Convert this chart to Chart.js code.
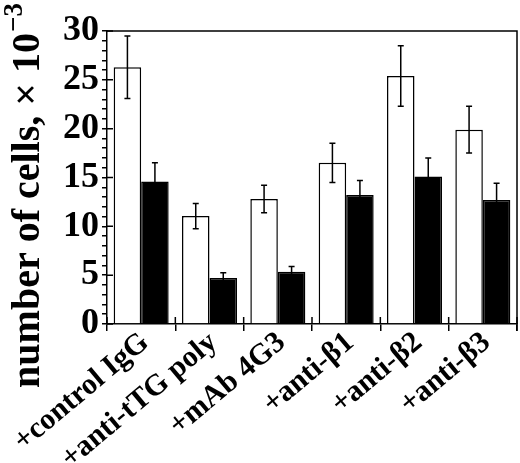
<!DOCTYPE html>
<html>
<head>
<meta charset="utf-8">
<script src="https://cdn.jsdelivr.net/npm/chart.js@4.4.0/dist/chart.umd.min.js"></script>
<style>
  body { margin: 0; background: #fff; }
  #wrap { width: 520px; height: 463px; }
</style>
</head>
<body>
<div id="wrap"><canvas id="mycanvas" width="520" height="463"></canvas></div>
<script>
// treatments along the x axis
var treatments = ['+control IgG', '+anti-tTG poly', '+mAb 4G3', '+anti-\u03B21', '+anti-\u03B22', '+anti-\u03B23'];
// number of cells x 10^-3 (open and filled bars)
var openBars = [26.3, 11.05, 12.8, 16.5, 25.4, 19.9];
var openErr = [3.2, 1.3, 1.4, 2.0, 3.1, 2.4];
var filledBars = [14.6, 4.7, 5.35, 13.2, 15.1, 12.7];
var filledErr = [1.9, 0.55, 0.55, 1.5, 1.9, 1.7];
var yTicks = [0, 5, 10, 15, 20, 25, 30];

var serif = '"Liberation Serif", "Times New Roman", serif';

// error bars, frame, inner ticks and the y title
var extras = {
  id: 'extras',
  afterDatasetsDraw: function(chart) {
    var ctx = chart.ctx;
    var ys = chart.scales.y;
    var errs = [openErr, filledErr];
    ctx.save();
    ctx.strokeStyle = '#000';
    ctx.lineWidth = 1.5;
    chart.data.datasets.forEach(function(ds, d) {
      var meta = chart.getDatasetMeta(d);
      meta.data.forEach(function(bar, i) {
        var v = ds.data[i];
        var hi = ys.getPixelForValue(v + errs[d][i]);
        var lo = ys.getPixelForValue(v - errs[d][i]);
        ctx.beginPath();
        ctx.moveTo(bar.x, hi); ctx.lineTo(bar.x, lo);
        ctx.moveTo(bar.x - 3, hi); ctx.lineTo(bar.x + 3, hi);
        ctx.moveTo(bar.x - 3, lo); ctx.lineTo(bar.x + 3, lo);
        ctx.stroke();
      });
    });
    var a = chart.chartArea;
    // top and right frame
    ctx.beginPath();
    ctx.moveTo(a.left, a.top); ctx.lineTo(a.right, a.top);
    ctx.lineTo(a.right, a.bottom + 7);
    ctx.stroke();
    // inner part of the major y ticks
    ctx.beginPath();
    yTicks.forEach(function(t) {
      var p = ys.getPixelForValue(t);
      ctx.moveTo(a.left, p); ctx.lineTo(a.left + 6, p);
    });
    // inner part of the x ticks
    for (var i = 0; i <= treatments.length; i++) {
      var px = a.left + (a.right - a.left) * i / treatments.length;
      ctx.moveTo(px, a.bottom); ctx.lineTo(px, a.bottom - 7);
    }
    ctx.stroke();
    // y title
    ctx.fillStyle = '#000';
    ctx.translate(39, 196);
    ctx.rotate(-Math.PI / 2);
    var main = 'number of cells, \u00D7 10';
    ctx.font = 'bold 40px ' + serif;
    var w = ctx.measureText(main).width;
    ctx.font = 'bold 27px ' + serif;
    var sup = '\u22123';
    var ws = ctx.measureText(sup).width;
    var start = -(w + ws) / 2;
    ctx.textAlign = 'left';
    ctx.textBaseline = 'alphabetic';
    ctx.font = 'bold 40px ' + serif;
    ctx.fillText(main, start, 0);
    ctx.font = 'bold 27px ' + serif;
    ctx.fillText(sup, start + w + 1, -17);
    ctx.restore();
  }
};

var chartdata = {
  labels: treatments,
  datasets: [
    {
      label: 'open',
      data: openBars,
      backgroundColor: '#fff',
      borderColor: '#000',
      borderWidth: 1.5,
      categoryPercentage: 0.805,
      barPercentage: 1.0
    },
    {
      label: 'filled',
      data: filledBars,
      backgroundColor: '#000',
      borderColor: '#000',
      borderWidth: 1.5,
      categoryPercentage: 0.805,
      barPercentage: 1.0
    }
  ]
};

var ctx = document.getElementById('mycanvas');
var barGraph = new Chart(ctx, {
  type: 'bar',
  data: chartdata,
  plugins: [extras],
  options: {
    responsive: false,
    animation: false,
    layout: { padding: { top: 31, right: 3, left: 0, bottom: 0 } },
    plugins: { legend: { display: false }, tooltip: { enabled: false } },
    scales: {
      x: {
        offset: true,
        grid: { offset: true, drawOnChartArea: false, tickLength: 7, color: '#000', lineWidth: 1.5 },
        border: { color: '#000', width: 1.5 },
        ticks: {
          autoSkip: false,
          minRotation: 40,
          maxRotation: 40,
          padding: -6,
          labelOffset: 4,
          color: '#000',
          font: { family: serif, size: 30, weight: 'bold' }
        },
        afterFit: function(scale) {
          scale.height = 139;
          scale.paddingLeft = 0;
          scale.paddingRight = 0;
        }
      },
      y: {
        min: 0,
        max: 30,
        grid: { drawOnChartArea: false, tickLength: 5, color: '#000', lineWidth: 1.5 },
        border: { color: '#000', width: 1.5 },
        ticks: {
          stepSize: 1,
          autoSkip: false,
          padding: 3,
          color: '#000',
          font: { family: serif, size: 36, weight: 'bold' },
          callback: function(v) { return yTicks.indexOf(v) >= 0 ? v : ''; }
        },
        afterFit: function(scale) { scale.width = 107; }
      }
    }
  }
});
</script>
</body>
</html>
